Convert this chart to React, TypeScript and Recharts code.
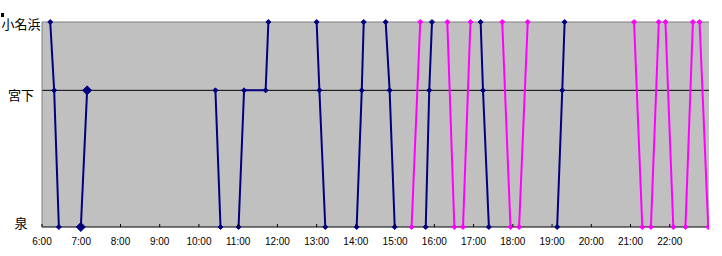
import React from "react";
import { LineChart, Line, XAxis, YAxis, CartesianGrid, ReferenceLine } from "recharts";

const stationNames: Record<number, string> = { 0: "泉", 2: "宮下", 3: "小名浜" };
const stationLevels = [0, 2, 3];
const hourTicks = [6, 7, 8, 9, 10, 11, 12, 13, 14, 15, 16, 17, 18, 19, 20, 21, 22];

const navyTimes = [
  [6.21, 6.31, 6.43],
  [6.99, 7.15],
  [10.42, 10.55],
  [11.01, 11.15, 11.7, 11.77],
  [13.0, 13.07, 13.22],
  [14.02, 14.15, 14.2],
  [14.76, 14.86, 14.99],
  [15.78, 15.87, 15.94],
  [17.18, 17.24, 17.39],
  [19.13, 19.26, 19.32],
];
const navyStops = [
  [3, 2, 0],
  [0, 2],
  [2, 0],
  [0, 2, 2, 3],
  [3, 2, 0],
  [0, 2, 3],
  [3, 2, 0],
  [0, 2, 3],
  [3, 2, 0],
  [0, 2, 3],
];

const magentaTimes = [
  [15.42, 15.64],
  [16.33, 16.51],
  [16.73, 16.92],
  [17.73, 17.94],
  [18.16, 18.38],
  [21.09, 21.3],
  [21.52, 21.72],
  [21.89, 22.09],
  [22.4, 22.59],
  [22.76, 22.98],
];
const magentaStops = [
  [0, 3],
  [3, 0],
  [0, 3],
  [3, 0],
  [0, 3],
  [3, 0],
  [0, 3],
  [3, 0],
  [0, 3],
  [3, 0],
];

const toData = (times: number[], stops: number[]) =>
  times.map((t, i) => ({ t, y: stops[i] }));

const NAVY = "#000080";
const MAGENTA = "#FF00FF";

const makeDiamond = (color: string, r: number) => (props: any) => {
  const { cx, cy, index } = props;
  if (cx == null || cy == null) return <g key={index} />;
  return (
    <path
      key={index}
      d={`M${cx},${cy - r}L${cx + r},${cy}L${cx},${cy + r}L${cx - r},${cy}Z`}
      fill={color}
      stroke={color}
      strokeWidth={1}
    />
  );
};

const labelOffsets: Record<number, number> = { 3: 7, 2: 10, 0: 1 };

const YTick = (props: any) => {
  const { y, payload } = props;
  const v = payload.value;
  return (
    <g>
      {v === 3 && <rect x={1} y={13} width={3} height={4} fill="#000" />}
      <text
        x={21}
        y={y + (labelOffsets[v] ?? 5)}
        textAnchor="middle"
        fontSize={13}
        fontFamily="'Noto Sans CJK JP', sans-serif"
        fill="#000"
      >
        {stationNames[v]}
      </text>
    </g>
  );
};

const XTick = (props: any) => {
  const { x, y, payload } = props;
  return (
    <g>
      <line x1={x} x2={x} y1={y - 3} y2={y} stroke="#000" strokeWidth={1} />
      <text
        x={x}
        y={y + 18}
        textAnchor="middle"
        fontSize={10}
        fontFamily="'Liberation Sans', Arial, sans-serif"
        fill="#000"
      >
        {`${payload.value}:00`}
      </text>
    </g>
  );
};

export default function App() {
  return (
    <div style={{ position: "absolute", left: 0, top: 0, background: "#fff" }}>
      <LineChart
        width={722}
        height={256}
        margin={{ top: 22, right: 13, bottom: 0, left: 0 }}
      >
        <CartesianGrid horizontal={false} vertical={false} fill="#C0C0C0" stroke="none" />
        <XAxis
          dataKey="t"
          type="number"
          domain={[6, 23]}
          ticks={hourTicks}
          allowDataOverflow
          height={29}
          tickLine={false}
          tickSize={0}
          tickMargin={0}
          axisLine={{ stroke: "#000", strokeWidth: 1 }}
          tick={<XTick />}
          interval={0}
        />
        <YAxis
          type="number"
          domain={[0, 3]}
          ticks={stationLevels}
          width={42}
          tickLine={false}
          tickSize={0}
          tickMargin={0}
          axisLine={{ stroke: "#808080", strokeWidth: 1 }}
          tick={<YTick />}
          interval={0}
        />
        <ReferenceLine y={2} stroke="#000" strokeWidth={1} />
        <ReferenceLine y={3} stroke="#808080" strokeWidth={1} />
        {navyTimes.map((times, i) => (
          <Line
            key={`n${i}`}
            data={toData(times, navyStops[i])}
            dataKey="y"
            type="linear"
            stroke={NAVY}
            strokeWidth={2}
            dot={makeDiamond(NAVY, i === 1 ? 4.5 : 2.5)}
            activeDot={false}
            isAnimationActive={false}
          />
        ))}
        {magentaTimes.map((times, i) => (
          <Line
            key={`m${i}`}
            data={toData(times, magentaStops[i])}
            dataKey="y"
            type="linear"
            stroke={MAGENTA}
            strokeWidth={2}
            dot={makeDiamond(MAGENTA, 2.5)}
            activeDot={false}
            isAnimationActive={false}
          />
        ))}
      </LineChart>
    </div>
  );
}
